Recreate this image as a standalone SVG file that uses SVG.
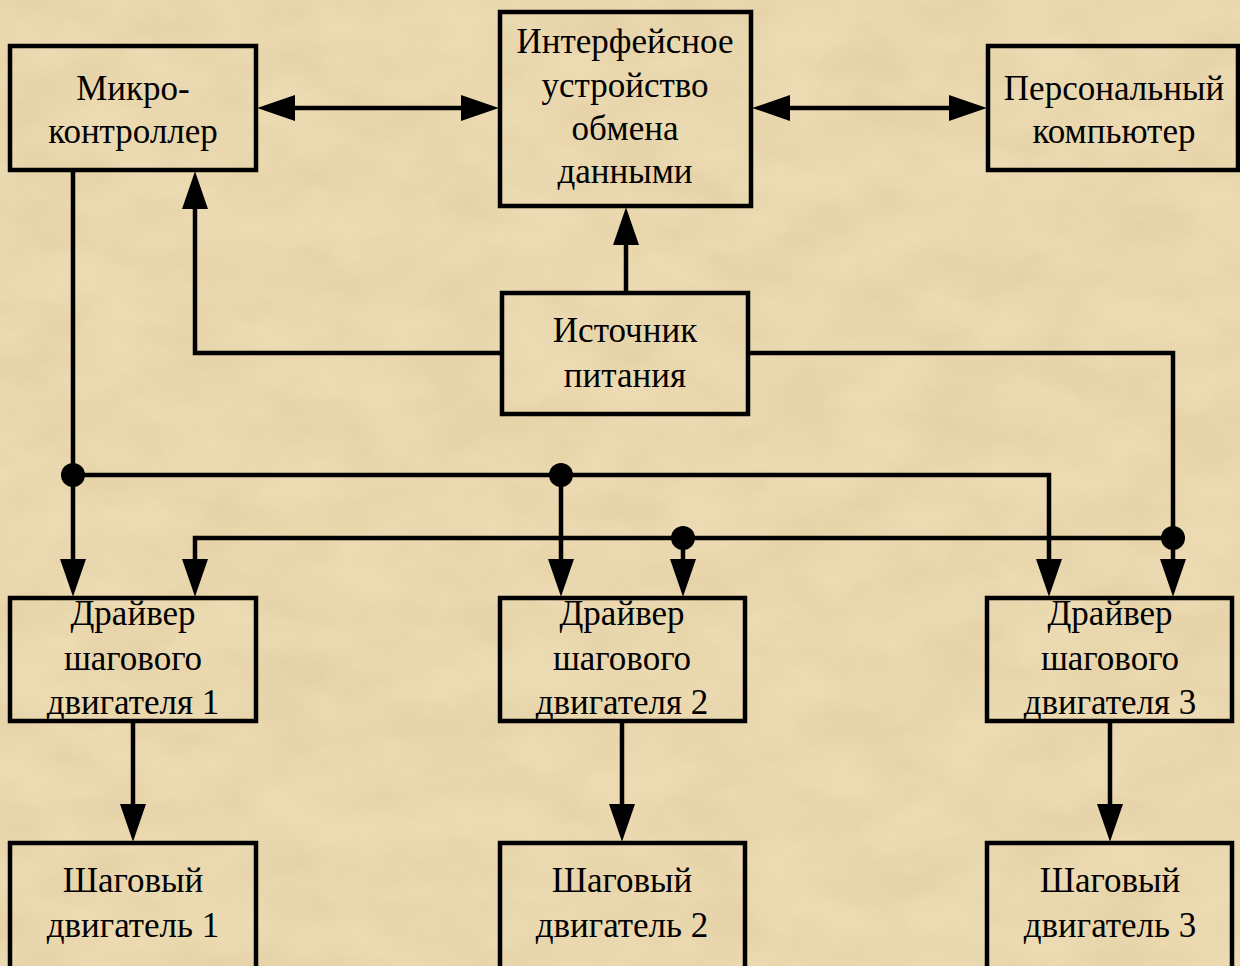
<svg xmlns="http://www.w3.org/2000/svg" width="1240" height="966" viewBox="0 0 1240 966">
  <defs>
    <filter id="paper" x="0" y="0" width="100%" height="100%">
      <feTurbulence type="fractalNoise" baseFrequency="0.012 0.02" numOctaves="4" seed="7" result="n"/>
      <feColorMatrix in="n" type="matrix" values="0 0 0 0 0.62  0 0 0 0 0.48  0 0 0 0 0.25  0.9 0 0 0 -0.3"/>
    </filter>
    <marker id="ah" markerUnits="userSpaceOnUse" markerWidth="38" markerHeight="26" viewBox="0 0 35 24" refX="25" refY="12" orient="auto-start-reverse">
      <path d="M0,0 L35,12 L0,24 Z" fill="#000"/>
    </marker>
    <style>
      .box { fill: none; stroke: #000; stroke-width: 4.5; }
      .lbl { font-family: "Liberation Serif", "Times New Roman", serif; font-size: 35px; fill: #000; text-anchor: middle; }
      .wire { fill: none; stroke: #000; stroke-width: 4.5; stroke-linejoin: miter; }
      .arr { marker-end: url(#ah); }
      .dot { fill: #000; }
    </style>
  </defs>

  <rect x="0" y="0" width="1240" height="966" fill="#ecdab2"/>
  <rect x="0" y="0" width="1240" height="966" filter="url(#paper)" opacity="0.55"/>

  <g id="connectors">
    <path class="wire" d="M268,108 H488" marker-start="url(#ah)" marker-end="url(#ah)"/>
    <path class="wire" d="M763,108 H976" marker-start="url(#ah)" marker-end="url(#ah)"/>
    <path class="wire arr" d="M626,291 V218"/>
    <path class="wire arr" d="M500,353 H195 V182"/>
    <path class="wire" d="M750,353 H1173 V538"/>
    <path class="wire arr" d="M1173,538 V586"/>
    <path class="wire arr" d="M73,172 V586"/>
    <path class="wire arr" d="M73,475 H1049 V586"/>
    <path class="wire arr" d="M561,475 V586"/>
    <path class="wire arr" d="M1173,538 H195 V586"/>
    <path class="wire arr" d="M683,538 V586"/>
    <path class="wire arr" d="M133,723 V831"/>
    <path class="wire arr" d="M622,723 V831"/>
    <path class="wire arr" d="M1110,723 V831"/>
    <circle class="dot" cx="73" cy="475" r="12"/>
    <circle class="dot" cx="561" cy="475" r="12"/>
    <circle class="dot" cx="683" cy="538" r="12"/>
    <circle class="dot" cx="1173" cy="538" r="12"/>
  </g>

  <g id="microcontroller">
    <rect class="box" x="10" y="46" width="246" height="124"/>
    <text class="lbl" x="133" y="100">Микро-</text>
    <text class="lbl" x="133" y="143">контроллер</text>
  </g>
  <g id="interface">
    <rect class="box" x="500" y="12" width="251" height="194"/>
    <text class="lbl" x="625" y="53">Интерфейсное</text>
    <text class="lbl" x="625" y="97">устройство</text>
    <text class="lbl" x="625" y="140">обмена</text>
    <text class="lbl" x="625" y="183">данными</text>
  </g>
  <g id="pc">
    <rect class="box" x="988" y="46" width="250" height="124"/>
    <text class="lbl" x="1114" y="100">Персональный</text>
    <text class="lbl" x="1114" y="143">компьютер</text>
  </g>
  <g id="power">
    <rect class="box" x="502" y="293" width="246" height="121"/>
    <text class="lbl" x="625" y="342">Источник</text>
    <text class="lbl" x="625" y="387">питания</text>
  </g>
  <g id="driver1">
    <rect class="box" x="10" y="598" width="246" height="123"/>
    <text class="lbl" x="133" y="625">Драйвер</text>
    <text class="lbl" x="133" y="670">шагового</text>
    <text class="lbl" x="133" y="714">двигателя 1</text>
  </g>
  <g id="driver2">
    <rect class="box" x="500" y="598" width="245" height="123"/>
    <text class="lbl" x="622" y="625">Драйвер</text>
    <text class="lbl" x="622" y="670">шагового</text>
    <text class="lbl" x="622" y="714">двигателя 2</text>
  </g>
  <g id="driver3">
    <rect class="box" x="987" y="598" width="245" height="123"/>
    <text class="lbl" x="1110" y="625">Драйвер</text>
    <text class="lbl" x="1110" y="670">шагового</text>
    <text class="lbl" x="1110" y="714">двигателя 3</text>
  </g>
  <g id="motor1">
    <rect class="box" x="10" y="843" width="246" height="130"/>
    <text class="lbl" x="133" y="892">Шаговый</text>
    <text class="lbl" x="133" y="937">двигатель 1</text>
  </g>
  <g id="motor2">
    <rect class="box" x="500" y="843" width="245" height="130"/>
    <text class="lbl" x="622" y="892">Шаговый</text>
    <text class="lbl" x="622" y="937">двигатель 2</text>
  </g>
  <g id="motor3">
    <rect class="box" x="987" y="843" width="245" height="130"/>
    <text class="lbl" x="1110" y="892">Шаговый</text>
    <text class="lbl" x="1110" y="937">двигатель 3</text>
  </g>
</svg>
